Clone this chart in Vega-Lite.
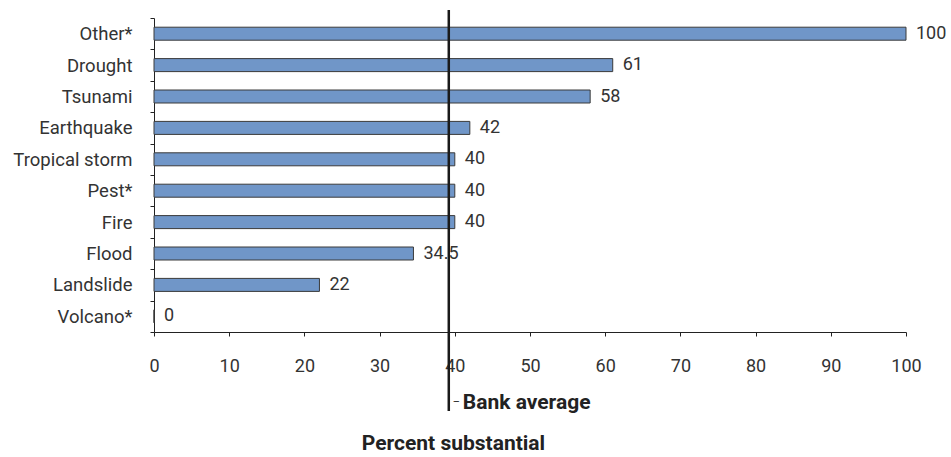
{
  "$schema": "https://vega.github.io/schema/vega-lite/v6.json",
  "width": 752,
  "height": 314,
  "autosize": {"type": "none"},
  "padding": {"left": 154, "top": 18, "right": 45, "bottom": 125},
  "config": {"view": {"stroke": null}, "font": "Roboto"},
  "data": {
    "values": [
      {"cause": "Other*", "pct": 100},
      {"cause": "Drought", "pct": 61},
      {"cause": "Tsunami", "pct": 58},
      {"cause": "Earthquake", "pct": 42},
      {"cause": "Tropical storm", "pct": 40},
      {"cause": "Pest*", "pct": 40},
      {"cause": "Fire", "pct": 40},
      {"cause": "Flood", "pct": 34.5},
      {"cause": "Landslide", "pct": 22},
      {"cause": "Volcano*", "pct": 0}
    ]
  },
  "layer": [
    {
      "mark": {"type": "bar", "size": 13, "fill": "#7096c8", "stroke": "#3a3a3a", "strokeWidth": 1},
      "encoding": {
        "y": {
          "field": "cause", "type": "nominal", "sort": null,
          "scale": {"paddingInner": 0, "paddingOuter": 0},
          "axis": {
            "title": null, "domainColor": "#222", "tickColor": "#222", "tickSize": 4,
            "tickBand": "extent", "labelPadding": 18, "labelFontSize": 18.5,
            "labelColor": "#333", "labelFont": "Roboto"
          }
        },
        "x": {
          "field": "pct", "type": "quantitative",
          "scale": {"domain": [0, 100], "nice": false},
          "axis": {
            "values": [0, 10, 20, 30, 40, 50, 60, 70, 80, 90, 100],
            "grid": false, "title": "Percent substantial", "titleFontSize": 21,
            "titleFontWeight": "bold", "titleColor": "#222", "titleX": 299, "titleY": 111,
            "titleBaseline": "middle", "titleFont": "Roboto",
            "labelPadding": 21, "labelFontSize": 18, "labelColor": "#333", "labelFont": "Roboto",
            "tickSize": 4, "domainColor": "#222", "tickColor": "#222",
            "labelFlush": false, "labelOverlap": false
          }
        }
      }
    },
    {
      "mark": {"type": "text", "align": "left", "baseline": "middle", "dx": 10, "fontSize": 18, "color": "#333", "font": "Roboto"},
      "encoding": {
        "y": {"field": "cause", "type": "nominal", "sort": null},
        "x": {"field": "pct", "type": "quantitative"},
        "text": {"field": "pct", "type": "quantitative"}
      }
    },
    {
      "data": {"values": [{"avg": 39.2, "label": "Bank average"}]},
      "mark": {"type": "rule", "strokeWidth": 2.5, "color": "#1a1a1a", "yOffset": -8, "y2Offset": 79},
      "encoding": {
        "x": {"field": "avg", "type": "quantitative"},
        "y": {"datum": "Other*", "bandPosition": 0},
        "y2": {"datum": "Volcano*", "bandPosition": 1}
      }
    },
    {
      "data": {"values": [{"avg": 39.2, "label": "–"}]},
      "mark": {"type": "text", "align": "left", "baseline": "middle", "dx": 4, "yOffset": 86, "fontSize": 11, "color": "#222", "font": "Roboto"},
      "encoding": {
        "x": {"field": "avg", "type": "quantitative"},
        "y": {"datum": "Volcano*"},
        "text": {"field": "label"}
      }
    },
    {
      "data": {"values": [{"avg": 39.2, "label": "Bank average"}]},
      "mark": {"type": "text", "align": "left", "baseline": "middle", "dx": 14, "yOffset": 87, "fontSize": 21, "fontWeight": "bold", "color": "#222", "font": "Roboto"},
      "encoding": {
        "x": {"field": "avg", "type": "quantitative"},
        "y": {"datum": "Volcano*"},
        "text": {"field": "label"}
      }
    }
  ]
}
